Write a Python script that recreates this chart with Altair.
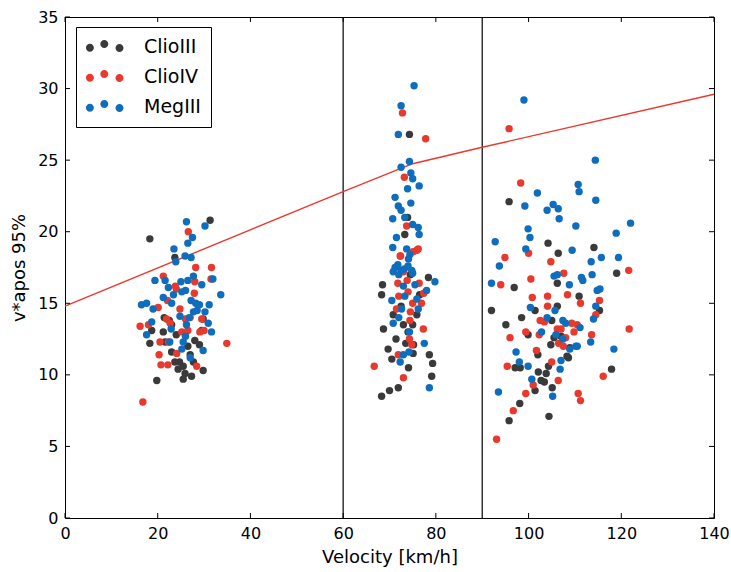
import altair as alt
import pandas as pd

series_names = ["ClioIII", "ClioIV", "MegIII"]
series_colors = ["#3a3a3a", "#e8392c", "#0f6dbd"]

clio3_x = [18.3, 31.3, 23.7, 21.4, 22.5, 23.0, 21.2, 18.7, 18.3, 21.6, 28.0, 29.0, 29.5, 23.0, 23.7, 24.7, 27.0, 27.7, 24.4, 25.9, 27.3, 25.5, 29.8, 19.8, 29.8, 26.5, 24.0, 25.5,
           74.3, 73.9, 73.3, 78.4, 68.5, 68.3, 70.8, 75.9, 73.0, 75.0, 68.7, 74.0, 71.4, 75.2, 69.7, 70.5, 75.1, 78.6, 79.3, 74.1, 79.1, 71.9, 70.0, 68.3, 74.5, 72.5, 76.5, 73.5,
           95.8, 104.2, 114.1, 106.4, 119.0, 96.9, 106.2, 110.9, 115.3, 92.0, 106.2, 101.4, 105.0, 99.9, 95.1, 98.5, 104.8, 102.0, 97.1, 98.2, 104.3, 103.8, 102.1, 102.7, 103.4, 101.4, 105.1, 108.3, 108.9, 98.1, 95.8, 104.4, 117.9, 108.6, 107.0, 105.5]
clio3_y = [19.5, 20.8, 18.2, 14.0, 13.8, 13.5, 13.0, 13.1, 12.2, 12.3, 12.4, 12.1, 13.1, 11.6, 10.9, 10.9, 11.4, 10.9, 10.4, 10.1, 9.9, 9.7, 10.3, 9.6, 13.9, 12.0, 12.8, 10.6,
           26.8, 21.0, 19.8, 16.8, 16.3, 15.6, 14.2, 14.2, 13.5, 13.5, 13.2, 13.0, 12.5, 12.1, 11.8, 11.1, 11.5, 11.4, 10.8, 10.5, 9.9, 9.1, 8.9, 8.5, 17.0, 14.8, 15.6, 12.2,
           22.1, 19.2, 18.9, 18.5, 17.1, 16.1, 16.4, 15.5, 14.5, 14.5, 14.8, 14.5, 13.8, 12.8, 13.5, 14.0, 12.1, 11.4, 10.5, 10.5, 10.6, 10.1, 10.2, 9.6, 9.5, 8.9, 9.1, 11.3, 11.9, 8.0, 6.8, 7.1, 10.4, 11.2, 12.7, 12.6]

clio4_x = [26.6, 21.2, 28.2, 31.6, 28.0, 31.5, 23.8, 27.9, 22.1, 20.1, 24.8, 21.9, 22.7, 25.2, 16.2, 18.0, 29.1, 30.0, 34.9, 20.5, 22.3, 24.1, 20.3, 20.7, 22.2, 28.4, 16.8, 26.5, 26.0, 29.5, 24.0, 27.0,
           72.8, 77.8, 73.2, 73.7, 72.4, 75.1, 76.2, 75.9, 72.3, 73.0, 71.8, 76.4, 77.4, 71.5, 74.0, 76.9, 75.0, 74.5, 74.4, 77.3, 74.3, 74.8, 71.9, 66.7, 73.0, 72.0, 73.8,
           95.8, 98.3, 100.0, 94.9, 121.6, 104.8, 94.0, 100.5, 107.6, 108.4, 115.3, 111.2, 104.1, 104.1, 102.5, 103.4, 106.2, 107.0, 109.8, 109.3, 110.5, 113.6, 116.1, 99.4, 96.0, 102.3, 101.7, 95.4, 105.0, 101.0, 106.4, 99.4, 96.7, 93.1, 110.7, 111.2, 106.5, 107.5, 108.0, 114.5, 121.7, 100.8]
clio4_y = [20.0, 16.9, 17.5, 17.5, 16.5, 16.7, 16.2, 15.7, 15.2, 14.7, 14.6, 13.9, 13.6, 13.0, 13.4, 13.5, 13.0, 13.1, 12.2, 12.3, 12.3, 11.5, 11.4, 10.7, 10.7, 10.6, 8.1, 13.1, 13.9, 13.9, 16.0, 14.0,
           28.3, 26.5, 23.8, 20.4, 18.3, 18.6, 18.8, 18.7, 18.3, 17.2, 16.4, 16.4, 15.7, 14.6, 15.8, 15.0, 15.0, 14.4, 13.8, 13.2, 12.5, 12.1, 11.4, 10.6, 9.8, 15.5, 16.6,
           27.2, 23.4, 18.5, 18.2, 17.3, 17.9, 16.3, 16.7, 17.1, 15.6, 15.2, 15.0, 14.8, 15.5, 13.8, 13.7, 13.2, 13.2, 13.0, 13.6, 13.5, 12.8, 9.9, 13.0, 12.6, 12.8, 11.7, 10.6, 10.9, 9.3, 9.6, 8.7, 7.5, 5.5, 8.7, 8.2, 12.2, 12.0, 12.6, 14.2, 13.2, 15.4]

meg3_x = [26.2, 30.2, 27.5, 26.5, 23.5, 25.9, 27.2, 23.9, 19.4, 21.6, 25.0, 26.5, 27.7, 29.5, 31.9, 33.6, 22.3, 23.4, 21.2, 25.2, 26.0, 16.5, 17.6, 19.0, 23.0, 27.2, 28.2, 29.0, 31.1, 27.7, 30.2, 24.8, 18.7, 26.2, 30.9, 31.6, 22.9, 17.6, 22.6, 25.5, 26.0, 25.2, 29.8, 27.0, 28.5, 26.8,
          75.3, 72.5, 71.9, 72.5, 74.3, 74.6, 75.0, 76.4, 73.9, 71.2, 74.6, 71.9, 72.5, 70.7, 73.3, 76.2, 71.5, 76.4, 70.7, 73.7, 74.4, 74.1, 71.2, 72.5, 74.8, 71.8, 70.8, 72.0, 73.2, 74.0, 75.0, 79.8, 73.0, 75.5, 78.0, 70.5, 73.3, 75.9, 72.6, 76.2, 70.8, 72.0, 74.3, 77.5, 73.0, 72.3, 74.2, 78.6, 75.0,
          99.0, 114.4, 101.9, 110.7, 110.9, 99.2, 114.5, 105.3, 104.0, 106.4, 106.6, 99.9, 100.3, 110.2, 122.0, 118.9, 92.8, 99.4, 109.4, 115.7, 119.4, 113.5, 113.7, 111.7, 111.4, 108.8, 114.8, 115.4, 114.5, 114.0, 113.4, 118.4, 111.1, 110.2, 93.7, 92.0, 105.5, 106.2, 100.4, 105.7, 104.0, 107.4, 108.0, 102.8, 105.9, 107.4, 108.9, 110.5, 97.3, 98.0, 99.9, 100.7, 105.2, 106.8, 107.0, 93.5]
meg3_y = [20.7, 20.4, 19.6, 19.2, 18.8, 18.3, 18.2, 17.9, 16.6, 16.6, 16.5, 16.6, 16.9, 16.3, 16.7, 15.6, 16.1, 15.6, 15.4, 15.8, 15.9, 14.9, 15.0, 14.6, 15.0, 15.2, 15.0, 14.9, 14.9, 14.4, 14.4, 14.1, 13.7, 13.5, 13.6, 13.0, 13.2, 12.8, 12.3, 12.3, 12.7, 11.8, 11.7, 11.2, 14.5, 14.0,
          30.2, 28.8, 26.8, 24.5, 24.9, 24.1, 23.7, 23.2, 23.0, 22.4, 22.0, 21.8, 21.5, 20.9, 21.0, 20.3, 19.6, 19.8, 18.9, 18.8, 18.4, 18.1, 17.5, 17.3, 17.3, 17.7, 17.2, 17.0, 17.4, 17.6, 17.1, 16.5, 16.2, 16.3, 15.9, 15.2, 15.5, 15.3, 14.6, 14.6, 13.6, 14.0, 13.0, 12.2, 11.4, 10.9, 11.6, 9.1, 20.5,
          29.2, 25.0, 22.7, 23.3, 22.8, 21.8, 22.2, 21.9, 21.5, 21.6, 20.9, 20.2, 19.6, 20.4, 20.6, 19.9, 19.3, 18.8, 18.7, 18.2, 18.2, 17.9, 17.0, 16.6, 16.8, 16.3, 15.9, 16.0, 14.8, 13.9, 12.3, 11.8, 13.3, 12.0, 17.6, 16.4, 16.9, 17.0, 14.7, 14.5, 14.0, 13.8, 13.6, 13.0, 12.8, 12.5, 11.8, 12.0, 11.6, 10.9, 10.6, 9.7, 8.5, 10.4, 11.0, 8.8]

limit_x = [0, 60, 75, 90, 140]
limit_y = [14.8, 22.8, 24.75, 25.9, 29.6]

boundary_x = [60, 90]
x_ticks = [0, 20, 40, 60, 80, 100, 120, 140]
y_ticks = [0, 5, 10, 15, 20, 25, 30, 35]

W, H = 649, 501
FONT = "DejaVu Sans"

rows = []
for name, xs, ys in [("ClioIII", clio3_x, clio3_y), ("ClioIV", clio4_x, clio4_y), ("MegIII", meg3_x, meg3_y)]:
    for a, b in zip(xs, ys):
        rows.append({"x": a, "y": b, "series": name})
pts = pd.DataFrame(rows)
pts["order"] = range(len(pts))

line_df = pd.DataFrame({"x": limit_x, "y": limit_y})
vline_df = pd.DataFrame({"x": boundary_x})
xt_df = pd.DataFrame({"x": x_ticks})
yt_df = pd.DataFrame({"y": y_ticks})

xscale = alt.Scale(domain=[0, 140], nice=False, zero=False)
yscale = alt.Scale(domain=[0, 35], nice=False, zero=False)
xaxis = alt.Axis(values=x_ticks, title="Velocity [km/h]", ticks=False, grid=False, domain=False,
                 labelPadding=7, titlePadding=7, labelFontSize=16, titleFontSize=18,
                 labelFont=FONT, titleFont=FONT, titleFontWeight="normal",
                 labelColor="#000000", titleColor="#000000", labelFlush=False)
yaxis = alt.Axis(values=y_ticks, title="v*apos 95%", ticks=False, grid=False, domain=False,
                 labelPadding=7, titlePadding=9, labelFontSize=16, titleFontSize=18,
                 labelFont=FONT, titleFont=FONT, titleFontWeight="normal",
                 labelColor="#000000", titleColor="#000000", labelFlush=False)

X = alt.X("x:Q", scale=xscale, axis=xaxis)
Y = alt.Y("y:Q", scale=yscale, axis=yaxis)

# three dots legend symbol (unit radius circles)
def circ(cx, cy):
    return f"M{cx-1},{cy} A1,1 0 1,0 {cx+1},{cy} A1,1 0 1,0 {cx-1},{cy} Z "
three_dots = (circ(-1.4, 0.3) + circ(2.2, -0.6) + circ(6.0, 0.35)).strip()

scatter = alt.Chart(pts).mark_circle(size=55, opacity=1).encode(
    x=X, y=Y,
    color=alt.Color("series:N",
                    scale=alt.Scale(domain=series_names, range=series_colors),
                    legend=alt.Legend(title=None, orient="none", legendX=11, legendY=10,
                                      symbolType=three_dots, symbolSize=64,
                                      labelOffset=39, padding=10, rowPadding=10,
                                      labelFontSize=19, labelFont=FONT, labelColor="#000000",
                                      strokeColor="#000000", fillColor="#ffffff",
                                      symbolOpacity=1, symbolStrokeWidth=0)),
    order="order:Q",
)

limit_line = alt.Chart(line_df).mark_line(color="#e8392c", strokeWidth=1.4).encode(x=X, y=Y)

vlines = alt.Chart(vline_df).mark_rule(color="#000000", strokeWidth=1.2).encode(
    x=X, y=alt.value(0), y2=alt.value(H))

tick_b = alt.Chart(xt_df).mark_rule(color="#000000", strokeWidth=1).encode(x=X, y=alt.value(H), y2=alt.value(H - 5))
tick_t = alt.Chart(xt_df).mark_rule(color="#000000", strokeWidth=1).encode(x=X, y=alt.value(0), y2=alt.value(5))
tick_l = alt.Chart(yt_df).mark_rule(color="#000000", strokeWidth=1).encode(y=Y, x=alt.value(0), x2=alt.value(5))
tick_r = alt.Chart(yt_df).mark_rule(color="#000000", strokeWidth=1).encode(y=Y, x=alt.value(W), x2=alt.value(W - 5))

chart = alt.layer(vlines, limit_line, scatter, tick_b, tick_t, tick_l, tick_r).properties(
    width=W, height=H,
    padding={"left": 65, "top": 17, "right": 17, "bottom": 54},
    autosize=alt.AutoSizeParams(type="none"),
    background="#ffffff",
).configure_view(stroke="#000000", strokeWidth=1)

chart.save("out.html", embed_options={"renderer": "svg", "actions": False})
